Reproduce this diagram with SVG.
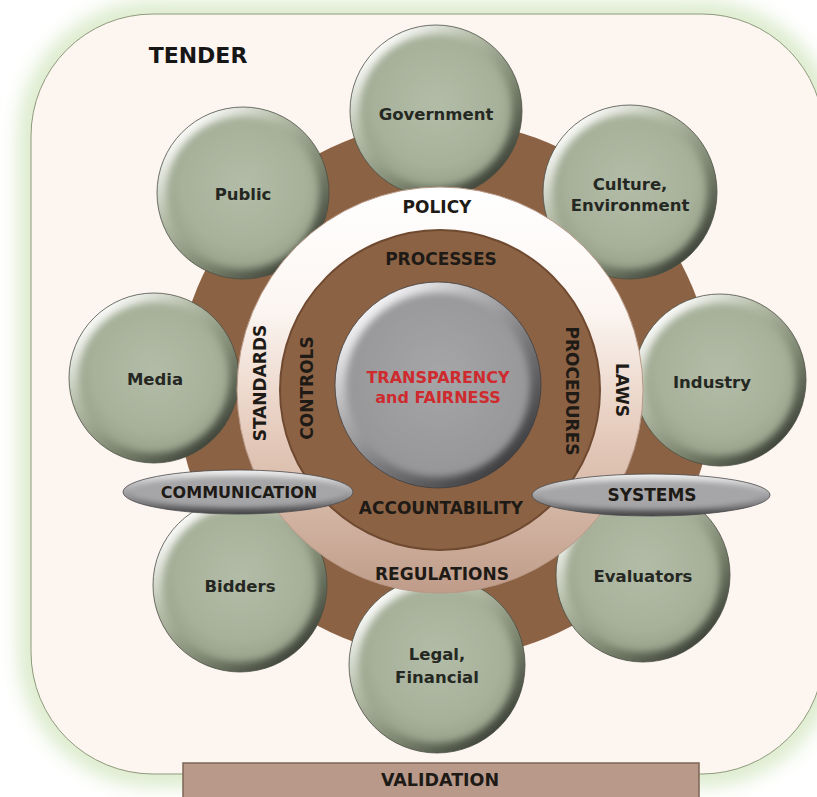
<svg xmlns="http://www.w3.org/2000/svg" width="817" height="797" viewBox="0 0 817 797">
<defs>
  <filter id="glow" x="-10%" y="-10%" width="120%" height="120%"><feGaussianBlur stdDeviation="10"/></filter>
  <filter id="soft" x="-10%" y="-10%" width="120%" height="120%"><feGaussianBlur stdDeviation="3.5"/></filter>
  <filter id="soft2" x="-10%" y="-30%" width="120%" height="160%"><feGaussianBlur stdDeviation="2.5"/></filter>
  <linearGradient id="rimG" x1="0.15" y1="0.1" x2="0.85" y2="0.9">
    <stop offset="0" stop-color="#ffffff"/>
    <stop offset="0.33" stop-color="#b4bca7"/>
    <stop offset="0.65" stop-color="#7f8872"/>
    <stop offset="1" stop-color="#3c4137"/>
  </linearGradient>
  <radialGradient id="sageG" cx="0.5" cy="0.45" r="0.55">
    <stop offset="0" stop-color="#b2bca7"/>
    <stop offset="0.75" stop-color="#a7b19a"/>
    <stop offset="1" stop-color="#98a28b"/>
  </radialGradient>
  <linearGradient id="rimGray" x1="0.15" y1="0.1" x2="0.85" y2="0.9">
    <stop offset="0" stop-color="#f8f8fa"/>
    <stop offset="0.35" stop-color="#ababad"/>
    <stop offset="0.65" stop-color="#727275"/>
    <stop offset="1" stop-color="#3c3c3e"/>
  </linearGradient>
  <radialGradient id="grayG" cx="0.5" cy="0.45" r="0.55">
    <stop offset="0" stop-color="#a6a6a8"/>
    <stop offset="1" stop-color="#969698"/>
  </radialGradient>
  <linearGradient id="ellRim" x1="0" y1="0" x2="0" y2="1">
    <stop offset="0" stop-color="#efefef"/>
    <stop offset="0.4" stop-color="#b2b2b4"/>
    <stop offset="0.75" stop-color="#7c7c7e"/>
    <stop offset="1" stop-color="#454547"/>
  </linearGradient>
  <linearGradient id="ringG" x1="0" y1="0" x2="0" y2="1">
    <stop offset="0" stop-color="#ffffff"/>
    <stop offset="0.3" stop-color="#fcf6f2"/>
    <stop offset="0.6" stop-color="#e6ccbd"/>
    <stop offset="1" stop-color="#bf9c89"/>
  </linearGradient>
  <style>
    .lbl{font-family:"DejaVu Sans",Verdana,sans-serif;font-weight:bold;font-size:16.5px;fill:#252822;text-anchor:middle}
    .core{font-family:"DejaVu Sans",Verdana,sans-serif;font-weight:bold;font-size:17px;fill:#1e1a16;text-anchor:middle}
    .rim{fill:url(#rimG);stroke:#4a4f44;stroke-width:0.8}
    .face{fill:url(#sageG);filter:url(#soft)}
  </style>
</defs>

<!-- background -->
<rect x="0" y="0" width="817" height="797" fill="#ffffff"/>
<rect x="31" y="14" width="793" height="760" rx="122" ry="122" fill="none" stroke="#d6e8c4" stroke-width="22" filter="url(#glow)"/>
<rect id="tender" x="31" y="14" width="793" height="760" rx="122" ry="122" fill="#fdf5f0" stroke="#8e9a7c" stroke-width="1"/>
<text x="198" y="63" font-family="DejaVu Sans, Verdana, sans-serif" font-weight="bold" font-size="22" fill="#161616" text-anchor="middle">TENDER</text>

<!-- brown disk -->
<circle cx="445" cy="390" r="268" fill="#8c6244"/>

<!-- outer nodes -->
<g id="government"><circle class="rim" cx="436" cy="111" r="86"/><circle class="face" cx="436" cy="111" r="76"/><text class="lbl" x="436" y="120">Government</text></g>
<g id="culture"><circle class="rim" cx="630" cy="192" r="87"/><circle class="face" cx="630" cy="192" r="77"/><text class="lbl" x="630" y="190">Culture,</text><text class="lbl" x="630" y="211">Environment</text></g>
<g id="industry"><circle class="rim" cx="720" cy="380" r="86"/><circle class="face" cx="720" cy="380" r="76"/><text class="lbl" x="712" y="388">Industry</text></g>
<g id="evaluators"><circle class="rim" cx="643" cy="575" r="87"/><circle class="face" cx="643" cy="575" r="77"/><text class="lbl" x="643" y="582">Evaluators</text></g>
<g id="legal"><circle class="rim" cx="437" cy="665" r="88"/><circle class="face" cx="437" cy="665" r="78"/><text class="lbl" x="437" y="660">Legal,</text><text class="lbl" x="437" y="683">Financial</text></g>
<g id="bidders"><circle class="rim" cx="240" cy="585" r="87"/><circle class="face" cx="240" cy="585" r="77"/><text class="lbl" x="240" y="592">Bidders</text></g>
<g id="media"><circle class="rim" cx="154" cy="378" r="85"/><circle class="face" cx="154" cy="378" r="75"/><text class="lbl" x="155" y="385">Media</text></g>
<g id="public"><circle class="rim" cx="243" cy="193" r="86"/><circle class="face" cx="243" cy="193" r="76"/><text class="lbl" x="243" y="200">Public</text></g>

<!-- ring -->
<g id="ring">
  <circle cx="440" cy="390" r="203" fill="url(#ringG)" stroke="#b89886" stroke-width="1"/>
  <circle cx="440" cy="390" r="160" fill="#8c6244" stroke="#6f4a31" stroke-width="2"/>
  <text class="core" x="437" y="213">POLICY</text>
  <text class="core" x="442" y="580">REGULATIONS</text>
  <text class="core" transform="translate(266,383) rotate(-90)">STANDARDS</text>
  <text class="core" transform="translate(616,390) rotate(90)">LAWS</text>
  <text class="core" x="441" y="265">PROCESSES</text>
  <text class="core" x="441" y="514">ACCOUNTABILITY</text>
  <text class="core" transform="translate(313,388) rotate(-90)">CONTROLS</text>
  <text class="core" transform="translate(566,391) rotate(90)">PROCEDURES</text>
</g>

<!-- center -->
<g id="center">
  <circle cx="438" cy="385" r="103" fill="url(#rimGray)" stroke="#3e3e40" stroke-width="0.8"/>
  <circle cx="438" cy="385" r="92" fill="url(#grayG)" filter="url(#soft)"/>
  <text class="core" x="438" y="383" style="font-size:16px;fill:#cf2a2e">TRANSPARENCY</text>
  <text class="core" x="438" y="403" style="font-size:16px;fill:#cf2a2e">and FAIRNESS</text>
</g>

<!-- ellipses -->
<g id="communication">
  <ellipse cx="238" cy="492" rx="115" ry="22" fill="url(#ellRim)" stroke="#4a4a4c" stroke-width="0.8"/>
  <ellipse cx="238" cy="492" rx="106" ry="15" fill="#a6a6a8" filter="url(#soft2)"/>
  <text class="core" x="239" y="498" style="font-size:16px">COMMUNICATION</text>
</g>
<g id="systems">
  <ellipse cx="651" cy="495" rx="119" ry="21" fill="url(#ellRim)" stroke="#4a4a4c" stroke-width="0.8"/>
  <ellipse cx="651" cy="495" rx="110" ry="14" fill="#a6a6a8" filter="url(#soft2)"/>
  <text class="core" x="652" y="501">SYSTEMS</text>
</g>

<!-- validation -->
<g id="validation">
  <rect x="183" y="763" width="516" height="40" fill="#b8998a" stroke="#7d6556" stroke-width="1.5"/>
  <text class="core" x="440" y="786" style="font-size:17.5px">VALIDATION</text>
</g>
</svg>
